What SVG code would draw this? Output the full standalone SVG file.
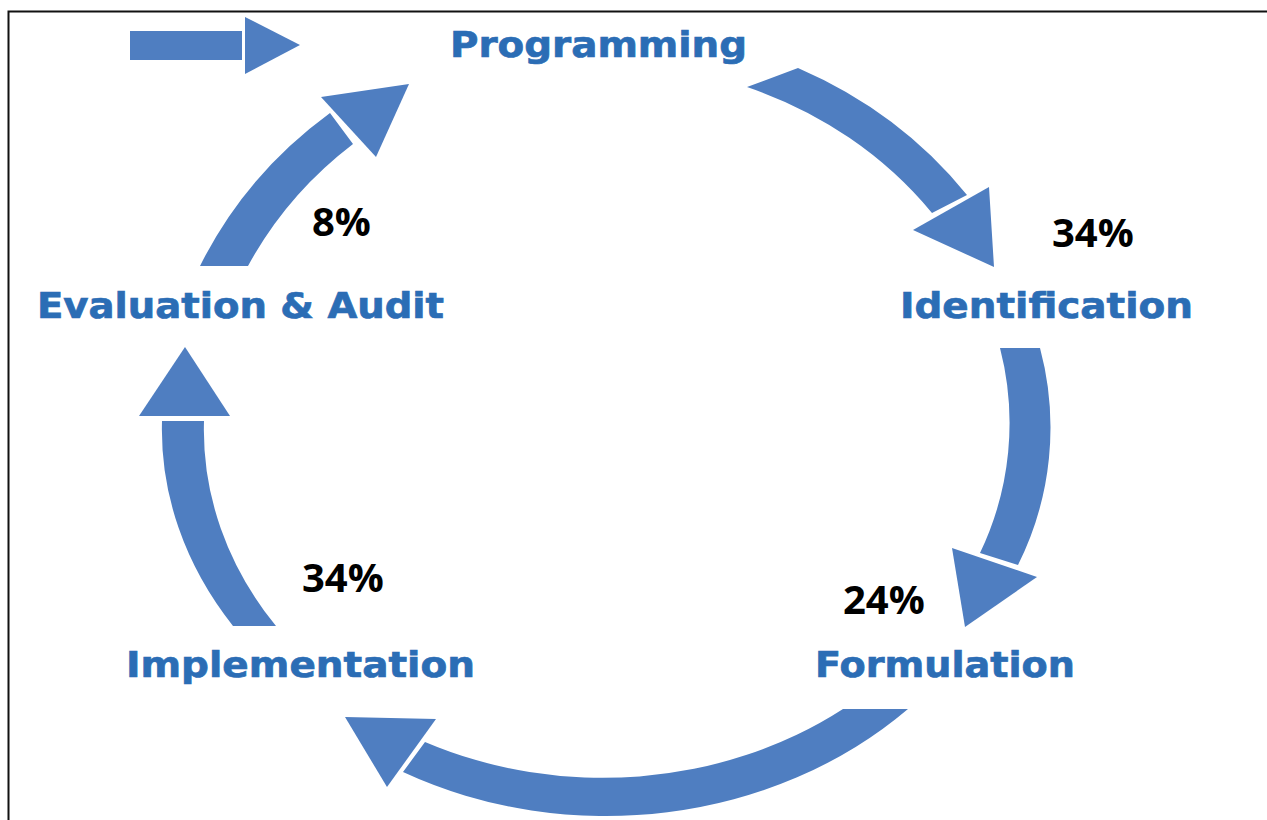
<svg xmlns="http://www.w3.org/2000/svg" width="1267" height="820" viewBox="0 0 1267 820">
  <style>
    .stage { font-family: "DejaVu Sans", Verdana, sans-serif; font-weight: bold; font-size: 36px; fill: #2b6db5; stroke: #2b6db5; stroke-width: 0.7px; }
    .pct { font-family: "Open Sans", "Liberation Sans", sans-serif; font-weight: bold; font-size: 40px; fill: #000; }
    .arrow { fill: #4f7ec1; stroke: none; }
  </style>
  <rect width="1267" height="820" fill="#fff"/>
  <!-- page frame: left and top rules only -->
  <path d="M8.5,820 V11.5 H1267" fill="none" stroke="#111" stroke-width="2"/>

  <g id="connectors">
    <!-- entry arrow -->
    <g id="entry">
      <rect class="arrow" x="130" y="31" width="112" height="29"/>
      <polygon class="arrow" points="245,17 300,45 245,74"/>
    </g>
    <!-- Programming to Identification -->
    <g id="prog-ident">
      <path class="arrow" d="M798,68 A449,411 0 0 1 967,195 L932,213 A409,376 0 0 0 747,87 Z"/>
      <polygon class="arrow" points="913,230 989,187 994,267"/>
    </g>
    <!-- Identification to Formulation -->
    <g id="ident-form">
      <path class="arrow" d="M1040,348 A307,307 0 0 1 1018,565 L980,553 A300,300 0 0 0 1000,348 Z"/>
      <polygon class="arrow" points="952,548 1037,577 965,627"/>
    </g>
    <!-- Formulation to Implementation -->
    <g id="form-impl">
      <path class="arrow" d="M908,709 A432,376 0 0 1 403,772 L425,742 A397,338 0 0 0 843,709 Z"/>
      <polygon class="arrow" points="345,717 436,719 387,787"/>
    </g>
    <!-- Implementation to Evaluation & Audit -->
    <g id="impl-eval">
      <path class="arrow" d="M233,626 A444,362 0 0 1 162,421 L204,421 A402,343 0 0 0 276,626 Z"/>
      <polygon class="arrow" points="139,416 230,416 185,347"/>
    </g>
    <!-- Evaluation & Audit to Programming -->
    <g id="eval-prog">
      <path class="arrow" d="M200,266 A447,416 0 0 1 330,113 L353,144 A402,380 0 0 0 248,266 Z"/>
      <polygon class="arrow" points="321,97 409,84 376,157"/>
    </g>
  </g>

  <g id="programming"><text class="stage" x="450" y="57" textLength="297" lengthAdjust="spacingAndGlyphs">Programming</text></g>
  <g id="identification"><text class="stage" x="900" y="318" textLength="293" lengthAdjust="spacingAndGlyphs">Identification</text></g>
  <g id="formulation"><text class="stage" x="815" y="677" textLength="260" lengthAdjust="spacingAndGlyphs">Formulation</text></g>
  <g id="implementation"><text class="stage" x="126" y="677" textLength="349" lengthAdjust="spacingAndGlyphs">Implementation</text></g>
  <g id="evaluation"><text class="stage" x="37" y="318" textLength="407" lengthAdjust="spacingAndGlyphs">Evaluation &amp; Audit</text></g>

  <g id="shares">
    <text class="pct" x="312" y="236">8%</text>
    <text class="pct" x="1052" y="247">34%</text>
    <text class="pct" x="843" y="614">24%</text>
    <text class="pct" x="302" y="592">34%</text>
  </g>
</svg>
